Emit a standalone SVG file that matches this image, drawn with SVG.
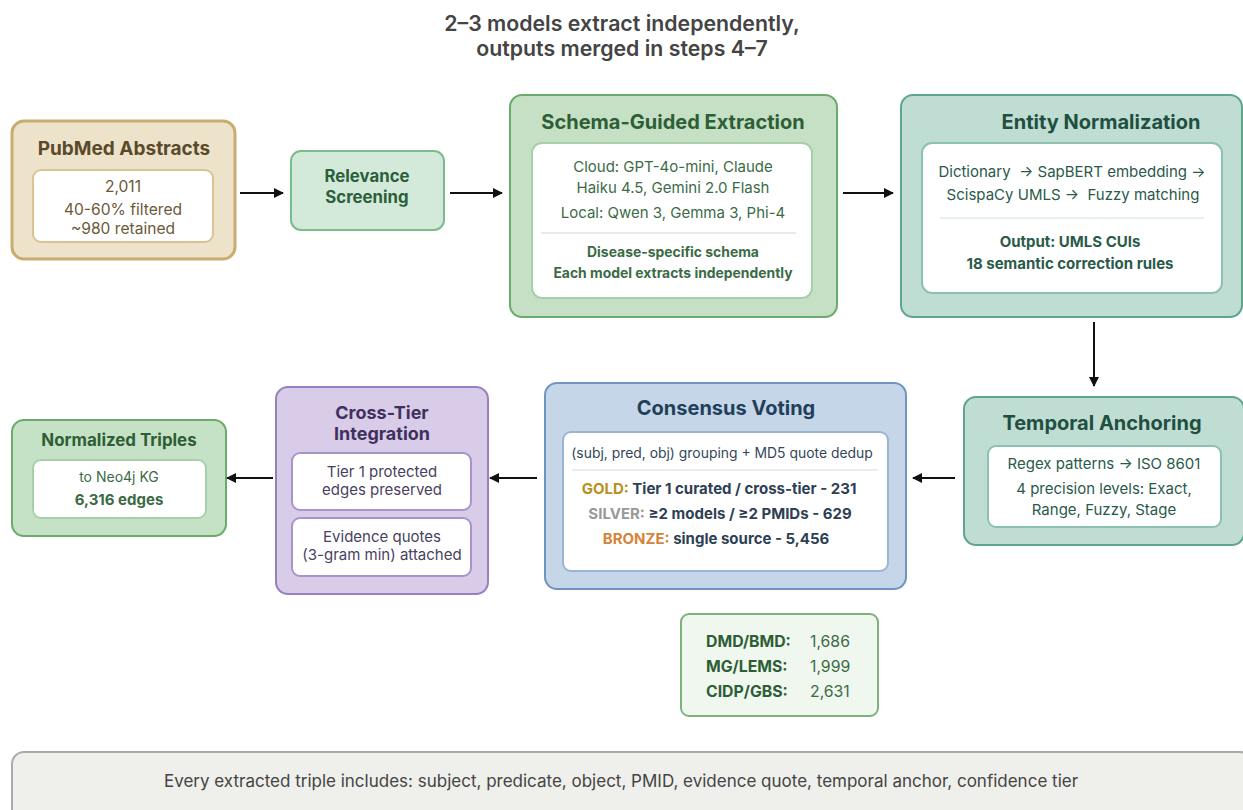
<svg xmlns="http://www.w3.org/2000/svg" width="1243" height="810" viewBox="0 0 1243 810">
<defs>
<marker id="ah" viewBox="0 0 10 10" refX="9" refY="5" markerWidth="10" markerHeight="10" markerUnits="userSpaceOnUse" orient="auto"><path d="M0,0 L10,5 L0,10 z" fill="#111"/></marker>
<style>
text{font-family:Inter,"Noto Sans","Liberation Sans",sans-serif;text-anchor:middle;white-space:pre}
.b{font-weight:700}
.ttl{font-size:20px;font-weight:700}
.t16{font-size:16.8px;font-weight:700}
.s{font-size:15px}
.inner{fill:#fff}
.conn{stroke:#111;stroke-width:2;fill:none;marker-end:url(#ah)}
</style>
</defs>
<rect width="1243" height="810" fill="#fff"/>
<g id="title" fill="#444" font-size="21.3" font-weight="600">
<text x="622" y="31">2–3 models extract independently,</text>
<text x="622" y="56">outputs merged in steps 4–7</text>
</g>
<g id="pubmed">
<rect x="12" y="121" width="223" height="138" rx="12" fill="#ede3cb" stroke="#c9ad6f" stroke-width="3"/>
<text x="124" y="155" class="ttl" font-size="19" style="font-size:19px" fill="#5a4a2a">PubMed Abstracts</text>
<rect x="33" y="170" width="180" height="72" rx="8" class="inner" stroke="#d9c48f" stroke-width="2"/>
<g fill="#6b5a3a" font-size="15.6"><text x="123" y="192">2,011</text><text x="123" y="215">40-60% filtered</text><text x="123" y="234">~980 retained</text></g>
</g>
<g id="relevance">
<rect x="291" y="151" width="153" height="79" rx="10" fill="#d3eadb" stroke="#7dbb8c" stroke-width="2"/>
<g class="t16" fill="#2d5e3a"><text x="367" y="182">Relevance</text><text x="367" y="203">Screening</text></g>
</g>
<g id="extraction">
<rect x="510" y="95" width="327" height="222" rx="12" fill="#c5e0c5" stroke="#6aaa6a" stroke-width="2"/>
<text x="673" y="129" class="ttl" fill="#2d5e35">Schema-Guided Extraction</text>
<rect x="532" y="143" width="280" height="155" rx="10" class="inner" stroke="#a8d0a8" stroke-width="2"/>
<g class="s" fill="#3b6b45"><text x="673" y="172">Cloud: GPT-4o-mini, Claude</text><text x="673" y="193">Haiku 4.5, Gemini 2.0 Flash</text><text x="673" y="218">Local: Qwen 3, Gemma 3, Phi-4</text></g>
<line x1="541" y1="233" x2="796" y2="233" stroke="#c8dcc8" stroke-width="1"/>
<g class="b" style="font-size:13.9px" fill="#3b6b45"><text x="673" y="257">Disease-specific schema</text><text x="673" y="278">Each model extracts independently</text></g>
</g>
<g id="normalization">
<rect x="901" y="95" width="341" height="222" rx="12" fill="#bfddd3" stroke="#5fa58a" stroke-width="2"/>
<text x="1101" y="129" class="ttl" fill="#1f4f40">Entity Normalization</text>
<rect x="922" y="143" width="300" height="150" rx="10" class="inner" stroke="#8cc2ad" stroke-width="2"/>
<g class="s" fill="#2a5a4a"><text x="1072" y="177">Dictionary  → SapBERT embedding →</text><text x="1073" y="200">ScispaCy UMLS →  Fuzzy matching</text></g>
<line x1="940" y1="218" x2="1204" y2="218" stroke="#cfe3dc" stroke-width="1"/>
<g class="s b" fill="#2a5a4a"><text x="1070" y="247">Output: UMLS CUIs</text><text x="1070" y="269">18 semantic correction rules</text></g>
</g>
<g id="temporal">
<rect x="964" y="397" width="280" height="148" rx="12" fill="#bfddd3" stroke="#5fa58a" stroke-width="2"/>
<text x="1102" y="430" class="ttl" fill="#1f4f40">Temporal Anchoring</text>
<rect x="988" y="446" width="233" height="81" rx="8" class="inner" stroke="#8cc2ad" stroke-width="2"/>
<g class="s" fill="#2a5a4a"><text x="1104" y="469">Regex patterns → ISO 8601</text><text x="1104" y="494">4 precision levels: Exact,</text><text x="1104" y="515">Range, Fuzzy, Stage</text></g>
</g>
<g id="consensus">
<rect x="545" y="383" width="361" height="206" rx="12" fill="#c5d6e8" stroke="#6f95bf" stroke-width="2"/>
<text x="726" y="415" class="ttl" fill="#223f5a">Consensus Voting</text>
<rect x="563" y="432" width="325" height="139" rx="8" class="inner" stroke="#9ab5d2" stroke-width="2"/>
<text x="722" y="458" style="font-size:13.9px" fill="#34465a">(subj, pred, obj) grouping + MD5 quote dedup</text>
<line x1="572" y1="470" x2="878" y2="470" stroke="#d4dde8" stroke-width="1"/>
<g class="s b" fill="#2e3f55">
<text x="719" y="494"><tspan fill="#b8901c">GOLD:</tspan> Tier 1 curated / cross-tier - 231</text>
<text x="720" y="519"><tspan fill="#999">SILVER:</tspan> ≥2 models / ≥2 PMIDs - 629</text>
<text x="716" y="544"><tspan fill="#d4843a">BRONZE:</tspan> single source - 5,456</text>
</g>
</g>
<g id="crosstier">
<rect x="276" y="387" width="212" height="207" rx="12" fill="#d8cce8" stroke="#9880c0" stroke-width="2"/>
<g class="b" style="font-size:18px" fill="#3f3060"><text x="382" y="419">Cross-Tier</text><text x="382" y="440">Integration</text></g>
<rect x="292" y="453" width="179" height="57" rx="8" class="inner" stroke="#a894cc" stroke-width="2"/>
<g class="s" fill="#4a3f60"><text x="382" y="477">Tier 1 protected</text><text x="382" y="495">edges preserved</text></g>
<rect x="292" y="518" width="179" height="58" rx="8" class="inner" stroke="#a894cc" stroke-width="2"/>
<g class="s" fill="#4a3f60"><text x="382" y="542">Evidence quotes</text><text x="382" y="560">(3-gram min) attached</text></g>
</g>
<g id="triples">
<rect x="12" y="420" width="214" height="116" rx="12" fill="#c6e2c6" stroke="#6aaa6a" stroke-width="2"/>
<text x="119" y="446" class="t16" style="font-size:16.9px" fill="#2d5e35">Normalized Triples</text>
<rect x="33" y="460" width="173" height="58" rx="8" class="inner" stroke="#a8d0a8" stroke-width="2"/>
<text x="119" y="482" style="font-size:14px" fill="#3b6b45">to Neo4j KG</text>
<text x="119" y="505" class="s b" fill="#3b6b45">6,316 edges</text>
</g>
<g id="stats">
<rect x="681" y="614" width="197" height="102" rx="8" fill="#eff7ef" stroke="#7db27d" stroke-width="2"/>
<g class="b" style="font-size:15.8px" fill="#2d5e35"><text x="706" y="647" style="text-anchor:start">DMD/BMD:</text><text x="706" y="672" style="text-anchor:start">MG/LEMS:</text><text x="706" y="697" style="text-anchor:start">CIDP/GBS:</text></g>
<g style="font-size:15.8px" fill="#3b6b45"><text x="810" y="647" style="text-anchor:start">1,686</text><text x="810" y="672" style="text-anchor:start">1,999</text><text x="810" y="697" style="text-anchor:start">2,631</text></g>
</g>
<g id="footer">
<rect x="12" y="752" width="1240" height="70" rx="12" fill="#efefeb" stroke="#aaa" stroke-width="2"/>
<text x="621" y="787" style="font-size:17px" fill="#444">Every extracted triple includes: subject, predicate, object, PMID, evidence quote, temporal anchor, confidence tier</text>
</g>
<g id="connectors">
<line x1="240" y1="193" x2="283" y2="193" class="conn"/>
<line x1="450" y1="193" x2="502" y2="193" class="conn"/>
<line x1="843" y1="193" x2="893" y2="193" class="conn"/>
<line x1="1094" y1="322" x2="1094" y2="386" class="conn"/>
<line x1="955" y1="478" x2="913" y2="478" class="conn"/>
<line x1="537" y1="478" x2="490" y2="478" class="conn"/>
<line x1="273" y1="478" x2="227" y2="478" class="conn"/>
</g>
</svg>
